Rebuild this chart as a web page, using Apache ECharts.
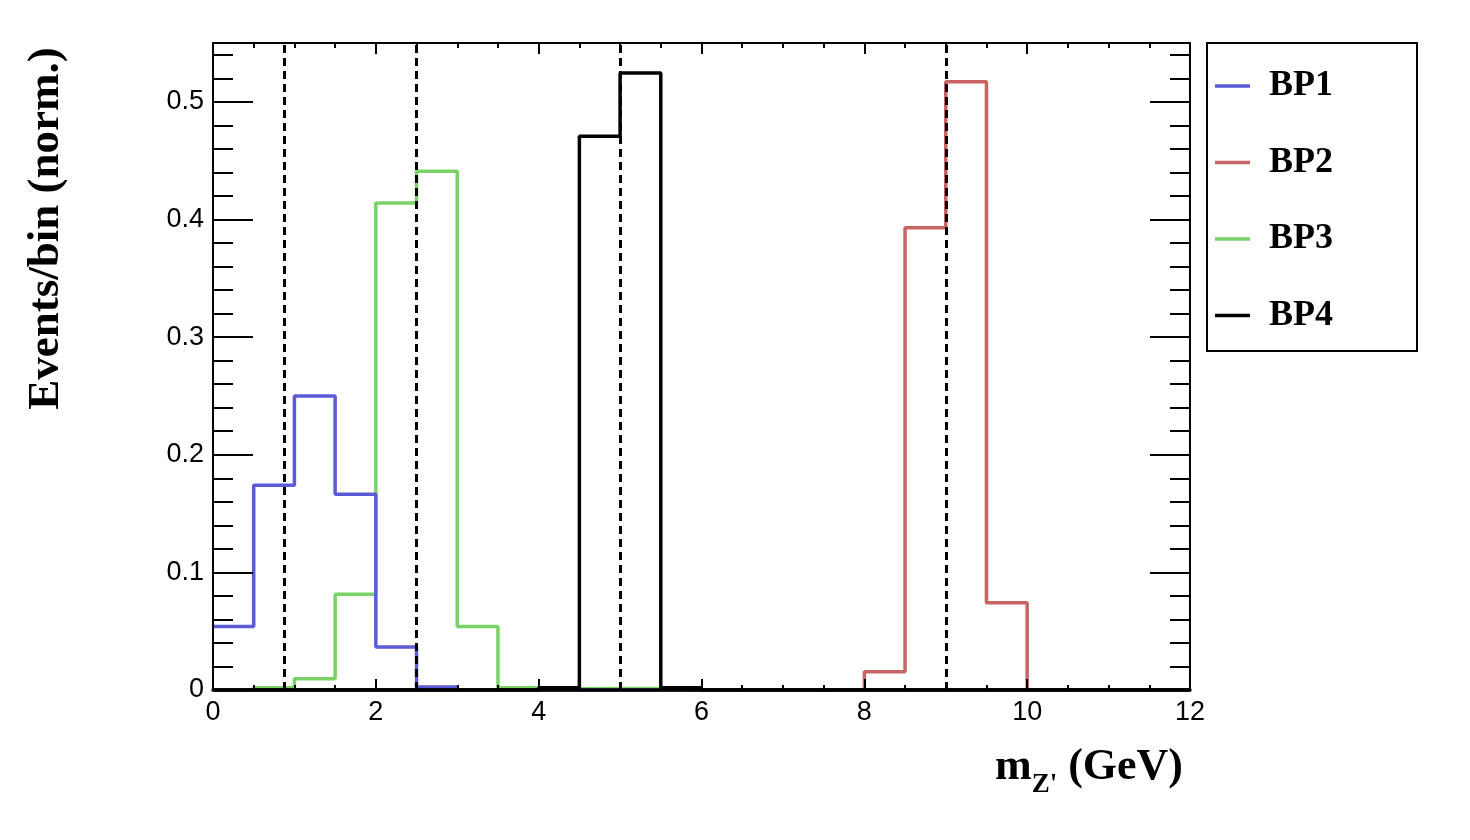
<!DOCTYPE html>
<html>
<head>
<meta charset="utf-8">
<script src="https://cdn.jsdelivr.net/npm/echarts@6/dist/echarts.min.js"></script>
<style>
html,body{margin:0;padding:0;background:#fff;}
#chart{width:1470px;height:840px;}
</style>
</head>
<body>
<div id="chart"></div>
<script>
// bin edges (GeV), 24 bins of 0.5
const binEdges = [0,0.5,1,1.5,2,2.5,3,3.5,4,4.5,5,5.5,6,6.5,7,7.5,8,8.5,9,9.5,10,10.5,11,11.5,12];
// normalized events per bin
const bp1 = [0.054,0.174,0.250,0.1665,0.0365,0.0025,0,0,0,0,0,0,0,0,0,0,0,0,0,0,0,0,0,0];
const bp2 = [0,0,0,0,0,0,0,0,0,0,0,0,0,0,0,0,0.0155,0.393,0.517,0.0742,0,0,0,0];
const bp3 = [0,0.002,0.0095,0.0815,0.414,0.441,0.054,0.002,0.001,0.0012,0.0012,0,0,0,0,0,0,0,0,0,0,0,0,0];
const bp4 = [0,0,0,0,0,0,0,0,0.002,0.4707,0.5245,0.002,0,0,0,0,0,0,0,0,0,0,0,0];
// dashed reference masses
const masses = [0.88, 2.5, 5, 9];
const seriesNames = ['BP1','BP2','BP3','BP4'];

function steps(vals){
  const d = vals.map((v,i)=>[binEdges[i], v]);
  d.push([binEdges[binEdges.length-1], vals[vals.length-1]]);
  return d;
}

const chart = echarts.init(document.getElementById('chart'));
const serif = 'Liberation Serif';
const sans = 'Liberation Sans';
const blk = '#000';

function yAx(pos, interval, len, labels, extra){
  return Object.assign({
    type:'value', position:pos, min:0, max:0.55, interval:interval, z:10,
    axisLine:{show:true, lineStyle:{color:blk, width:2}},
    axisTick:{show:true, inside:true, length:len, lineStyle:{color:blk, width:2}},
    axisLabel:{show:labels, showMaxLabel:false, color:blk, fontFamily:sans, fontSize:27, margin:9},
    splitLine:{show:false}
  }, extra||{});
}
function xAx(pos, labels, lw){
  return {
    type:'value', position:pos, min:0, max:12, interval:2, z:10,
    axisLine:{show:true, onZero:false, lineStyle:{color:blk, width:lw}},
    axisTick:{show:true, inside:true, length:11, lineStyle:{color:blk, width:2}},
    minorTick:{show:true, splitNumber:4, length:5, lineStyle:{color:blk, width:2}},
    axisLabel:{show:labels, color:blk, fontFamily:sans, fontSize:27, margin:9},
    splitLine:{show:false}
  };
}

const xa0 = xAx('bottom', true, 3.5);
xa0.name = '{m|m}{s|Z\'}{m| (GeV)}';
xa0.nameLocation = 'middle';
xa0.nameGap = 56;
xa0.nameTextStyle = {
  padding:[0,0,0,775],
  rich:{
    m:{fontFamily:serif, fontWeight:'bold', fontSize:44, lineHeight:46, verticalAlign:'top', color:blk},
    s:{fontFamily:serif, fontWeight:'bold', fontSize:27, lineHeight:27, padding:[26,0,0,0], verticalAlign:'top', color:blk}
  }
};

const ya0 = yAx('left', 0.1, 40, true, {
  name:'Events/bin (norm.)', nameLocation:'middle', nameGap:144,
  nameTextStyle:{fontFamily:serif, fontWeight:'bold', fontSize:45, color:blk, padding:[0,0,0,276]}
});

const colors = {BP1:'#5b5bd6', BP2:'#c86464', BP3:'#7ad266', BP4:'#000000'};
const vals = {BP1:bp1, BP2:bp2, BP3:bp3, BP4:bp4};
const zs = {BP3:2, BP2:3, BP1:4, BP4:5};

const series = seriesNames.map(n=>({
  name:n, type:'line', step:'end', symbol:'none', data:steps(vals[n]),
  xAxisIndex:0, yAxisIndex:0, z:zs[n],
  lineStyle:{color:colors[n], width:3.5}, itemStyle:{color:colors[n]}
}));
series.push({
  name:'cuts', type:'line', data:[], xAxisIndex:0, yAxisIndex:0, z:10,
  markLine:{silent:true, symbol:'none', label:{show:false},
    lineStyle:{type:[8,5], color:blk, width:3},
    data:masses.map(m=>({xAxis:m}))}
});

chart.setOption({
  animation:false,
  backgroundColor:'#fff',
  grid:{left:213, right:280, top:43, bottom:150, containLabel:false},
  xAxis:[xa0, xAx('top', false, 2)],
  yAxis:[ya0, yAx('left',0.02,20,false), yAx('right',0.1,40,false), yAx('right',0.02,20,false)],
  legend:{
    data:seriesNames, orient:'vertical', left:1210, top:61, selectedMode:false,
    icon:'rect', itemWidth:35, itemHeight:3.5, itemGap:36.5,
    textStyle:{fontFamily:serif, fontWeight:'bold', fontSize:36, color:blk, lineHeight:40, padding:[0,0,0,14]}
  },
  graphic:[{type:'rect', z:0, shape:{x:1207, y:43, width:210, height:308},
    style:{fill:'#fff', stroke:blk, lineWidth:2}}],
  series:series
});
</script>
</body>
</html>
